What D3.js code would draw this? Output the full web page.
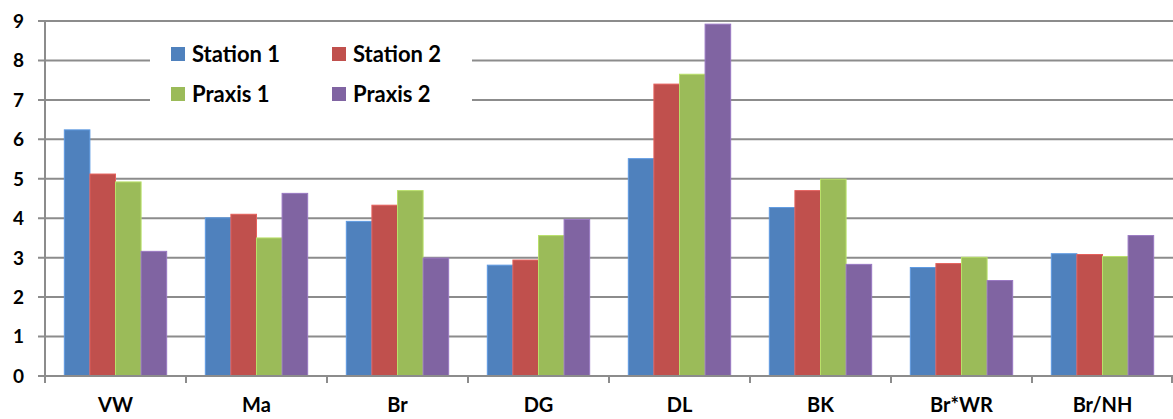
<!DOCTYPE html>
<html>
<head>
<meta charset="utf-8">
<script src="https://cdn.jsdelivr.net/npm/d3@7"></script>
<style>
  body { margin: 0; background: #fff; }
  svg { display: block; }
</style>
</head>
<body>
<div id="chart"></div>
<script>
const categories = ["VW", "Ma", "Br", "DG", "DL", "BK", "Br*WR", "Br/NH"];
const seriesNames = ["Station 1", "Station 2", "Praxis 1", "Praxis 2"];
const station1 = [6.24, 4.01, 3.92, 2.81, 5.51, 4.27, 2.75, 3.10];
const station2 = [5.12, 4.10, 4.33, 2.94, 7.40, 4.70, 2.85, 3.08];
const praxis1 = [4.92, 3.50, 4.70, 3.56, 7.65, 4.99, 3.01, 3.03];
const praxis2 = [3.16, 4.63, 2.99, 3.97, 8.92, 2.83, 2.42, 3.56];
const yTicks = [0, 1, 2, 3, 4, 5, 6, 7, 8, 9];
const colors = ["#4F81BD", "#C0504D", "#9BBB59", "#8064A2"];

const width = 1173, height = 419;
const margin = { top: 21, right: 0, bottom: 43, left: 45 };
const font = "Lato, 'Open Sans', sans-serif";

const allSeries = [station1, station2, praxis1, praxis2];
const rows = categories.map((c, i) => ({
  cat: c,
  values: allSeries.map((s, j) => ({ key: seriesNames[j], value: s[i], idx: j }))
}));

const svg = d3.select("#chart").append("svg")
  .attr("width", width)
  .attr("height", height);

const x = d3.scaleBand()
  .domain(categories)
  .range([margin.left, width - margin.right])
  .paddingInner(0)
  .paddingOuter(0);

// groups take ~73% of each band, like Excel gap width 150%
const groupPad = x.bandwidth() * 0.137;
const x1 = d3.scaleBand()
  .domain(seriesNames)
  .range([groupPad, x.bandwidth() - groupPad]);

const y = d3.scaleLinear()
  .domain([0, 9])
  .range([height - margin.bottom, margin.top]);

// gridlines
svg.append("g")
  .selectAll("line")
  .data(yTicks)
  .join("line")
  .attr("x1", margin.left - 7)
  .attr("x2", width - margin.right)
  .attr("y1", (d) => y(d))
  .attr("y2", (d) => y(d))
  .attr("stroke", "#8c8c8c")
  .attr("stroke-width", 2);

// y axis line
svg.append("line")
  .attr("x1", margin.left)
  .attr("x2", margin.left)
  .attr("y1", y(9))
  .attr("y2", y(0) + 7)
  .attr("stroke", "#8c8c8c")
  .attr("stroke-width", 2);

// category ticks
svg.append("g")
  .selectAll("line")
  .data(categories.slice(1).map((c) => x(c)).concat([width - 1]))
  .join("line")
  .attr("x1", (d) => d)
  .attr("x2", (d) => d)
  .attr("y1", y(0))
  .attr("y2", y(0) + 7)
  .attr("stroke", "#8c8c8c")
  .attr("stroke-width", 2);

// bars
const groups = svg.append("g")
  .selectAll("g")
  .data(rows)
  .join("g")
  .attr("transform", (d) => `translate(${x(d.cat)},0)`);

groups.selectAll("rect")
  .data((d) => d.values)
  .join("rect")
  .attr("x", (d) => x1(d.key))
  .attr("y", (d) => y(d.value))
  .attr("width", x1.bandwidth())
  .attr("height", (d) => y(0) - y(d.value))
  .attr("fill", (d) => colors[d.idx])
  .attr("stroke", (d) => d3.color(colors[d.idx]).brighter(0.5))
  .attr("stroke-width", 1);

// redraw zero line over bar bottoms
svg.append("line")
  .attr("x1", margin.left - 7)
  .attr("x2", width)
  .attr("y1", y(0))
  .attr("y2", y(0))
  .attr("stroke", "#8c8c8c")
  .attr("stroke-width", 2);

// y labels
svg.append("g")
  .selectAll("text")
  .data(yTicks)
  .join("text")
  .attr("x", 24)
  .attr("y", (d) => y(d))
  .attr("dy", "0.36em")
  .attr("text-anchor", "end")
  .attr("font-family", font)
  .attr("font-weight", "bold")
  .attr("font-size", "19px")
  .attr("fill", "#000")
  .text((d) => d);

// x labels
svg.append("g")
  .selectAll("text")
  .data(categories)
  .join("text")
  .attr("x", (d) => x(d) + x.bandwidth() / 2)
  .attr("y", 412)
  .attr("text-anchor", "middle")
  .attr("font-family", font)
  .attr("font-weight", "bold")
  .attr("font-size", "20px")
  .attr("fill", "#000")
  .text((d) => d);

// legend
const legend = svg.append("g");
legend.append("rect")
  .attr("x", 150)
  .attr("y", 36)
  .attr("width", 322)
  .attr("height", 80)
  .attr("fill", "#fff");

const legendItems = legend.selectAll(".legend-item")
  .data(seriesNames)
  .join("g")
  .attr("class", "legend-item")
  .attr("transform", (d, i) => `translate(${171 + (i % 2) * 161},${47 + Math.floor(i / 2) * 40})`);

legendItems.append("rect")
  .attr("width", 14)
  .attr("height", 14)
  .attr("fill", (d, i) => colors[i]);

legendItems.append("text")
  .attr("x", 21)
  .attr("y", 7)
  .attr("dy", "0.36em")
  .attr("font-family", font)
  .attr("font-weight", "bold")
  .attr("font-size", "22px")
  .attr("fill", "#000")
  .text((d) => d);
</script>
</body>
</html>
